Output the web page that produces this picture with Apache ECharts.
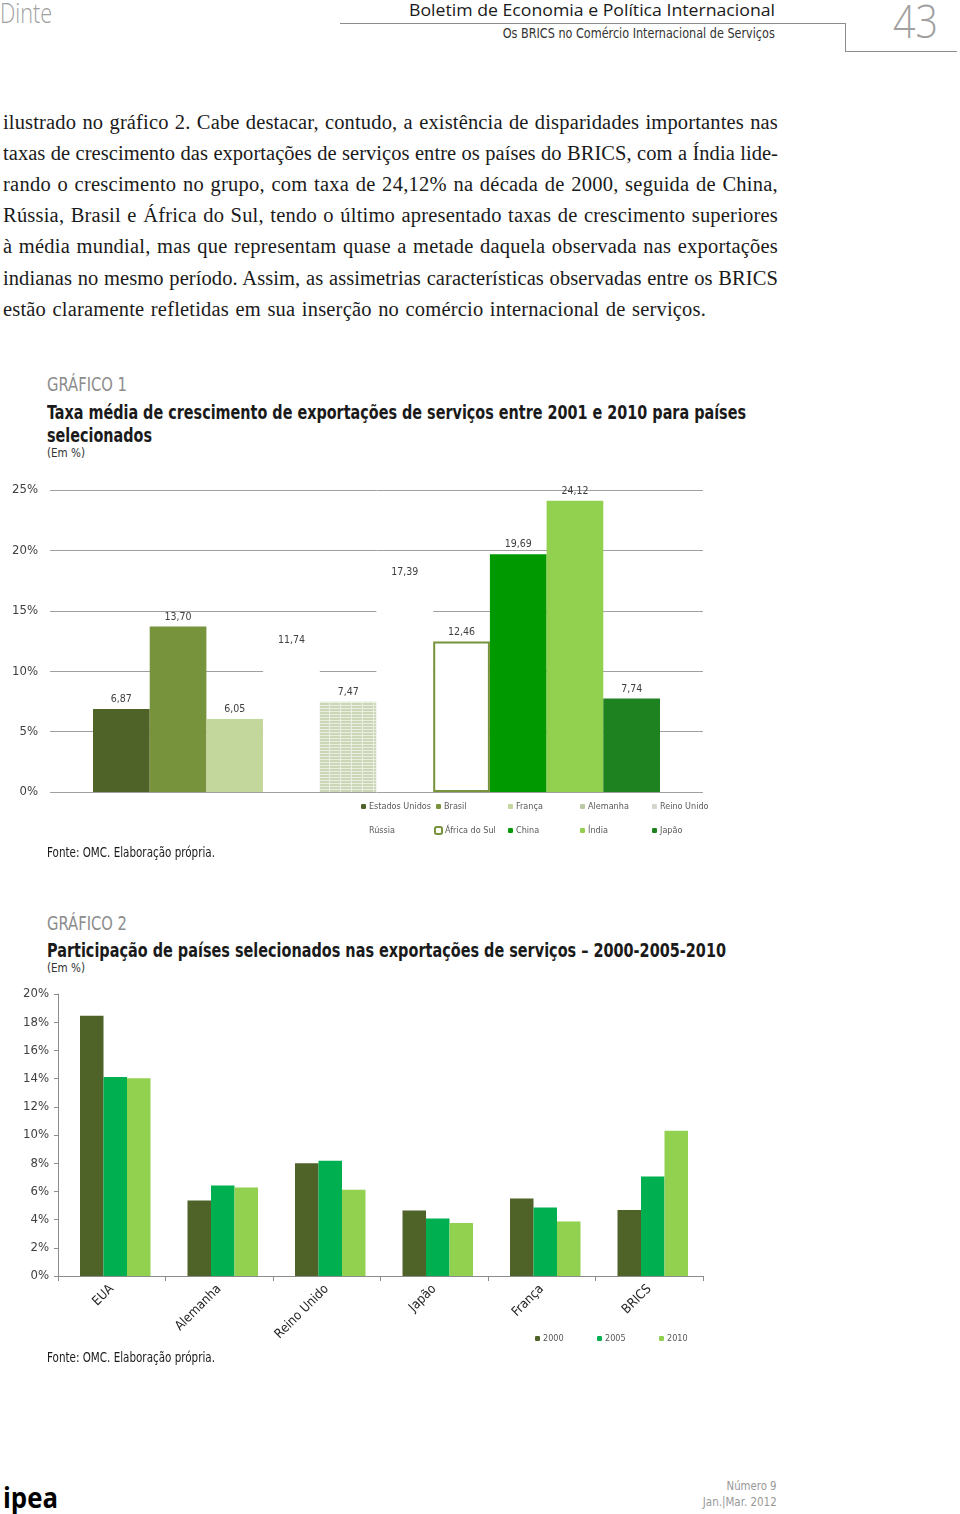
<!DOCTYPE html>
<html><head><meta charset="utf-8">
<script src="https://cdn.jsdelivr.net/npm/echarts@6/dist/echarts.min.js"></script>
<style>
html,body{margin:0;padding:0;background:#fff}
body{width:960px;height:1514px;position:relative;overflow:hidden}
.t{position:absolute;white-space:nowrap;line-height:1;font-family:'Liberation Sans Narrow','DejaVu Sans Condensed','Open Sans',sans-serif}
.r{transform-origin:right center}
.l{transform-origin:left center}
.body{font-family:'Liberation Serif','DejaVu Serif',serif;font-size:20.5px;color:#1a1a1a}
.hl{position:absolute;background:#8c8c8c}
#c1{position:absolute;left:0;top:460px;width:960px;height:400px}
#c2{position:absolute;left:0;top:975px;width:960px;height:400px}
</style></head>
<body>
<!-- header -->
<div class="t l" style="left:0;top:-1px;font-size:27px;color:#a0a0a0;font-family:'Open Sans',sans-serif;font-weight:300" data-w="52">Dinte</div>
<div class="t r" style="right:185px;top:1px;font-size:17px;color:#1a1a1a;font-family:'Open Sans',sans-serif" data-w="366">Boletim de Economia e Política Internacional</div>
<div class="hl" style="left:340px;top:23px;width:505px;height:1px"></div>
<div class="t r" style="right:185px;top:26px;font-size:14px;color:#333" data-w="272">Os BRICS no Comércio Internacional de Serviços</div>
<div class="hl" style="left:845px;top:23px;width:1px;height:29px"></div>
<div class="hl" style="left:845px;top:51px;width:112px;height:1px"></div>
<div class="t l" style="left:893px;top:-3px;font-size:46px;color:#a0a0a0;font-family:'Open Sans',sans-serif;font-weight:300" data-w="45">43</div>

<!-- body text -->
<div class="t body l" style="left:3px;top:112px" data-w="775" data-j="1">ilustrado no gráfico 2. Cabe destacar, contudo, a existência de disparidades importantes nas</div>
<div class="t body l" style="left:3px;top:143px" data-w="775" data-j="1">taxas de crescimento das exportações de serviços entre os países do BRICS, com a Índia lide-</div>
<div class="t body l" style="left:3px;top:174px" data-w="775" data-j="1">rando o crescimento no grupo, com taxa de 24,12% na década de 2000, seguida de China,</div>
<div class="t body l" style="left:3px;top:205px" data-w="775" data-j="1">Rússia, Brasil e África do Sul, tendo o último apresentado taxas de crescimento superiores</div>
<div class="t body l" style="left:3px;top:236px" data-w="775" data-j="1">à média mundial, mas que representam quase a metade daquela observada nas exportações</div>
<div class="t body l" style="left:3px;top:268px" data-w="775" data-j="1">indianas no mesmo período. Assim, as assimetrias características observadas entre os BRICS</div>
<div class="t body l" style="left:3px;top:299px" data-w="703" data-j="1">estão claramente refletidas em sua inserção no comércio internacional de serviços.</div>

<!-- chart 1 headings -->
<div class="t l" style="left:47px;top:375px;font-size:19px;color:#8c8c8c" data-w="80">GRÁFICO 1</div>
<div class="t l" style="left:47px;top:402px;font-size:20px;color:#1a1a1a;font-weight:bold" data-w="699">Taxa média de crescimento de exportações de serviços entre 2001 e 2010 para países</div>
<div class="t l" style="left:47px;top:425px;font-size:20px;color:#1a1a1a;font-weight:bold" data-w="105">selecionados</div>
<div class="t l" style="left:47px;top:446px;font-size:13px;color:#333" data-w="38">(Em %)</div>
<div id="c1"></div>
<div class="t l" style="left:47px;top:845px;font-size:14px;color:#1a1a1a" data-w="168">Fonte: OMC. Elaboração própria.</div>

<!-- chart 2 headings -->
<div class="t l" style="left:47px;top:914px;font-size:19px;color:#8c8c8c" data-w="80">GRÁFICO 2</div>
<div class="t l" style="left:47px;top:940px;font-size:20px;color:#1a1a1a;font-weight:bold" data-w="679">Participação de países selecionados nas exportações de serviços – 2000-2005-2010</div>
<div class="t l" style="left:47px;top:961px;font-size:13px;color:#333" data-w="38">(Em %)</div>
<div id="c2"></div>
<div class="t l" style="left:47px;top:1350px;font-size:14px;color:#1a1a1a" data-w="168">Fonte: OMC. Elaboração própria.</div>

<!-- footer -->
<div class="t l" style="left:3px;top:1482px;font-size:29px;color:#000;font-weight:bold;font-family:'Open Sans',sans-serif" data-w="55">ipea</div>
<div class="t r" style="right:183px;top:1479px;font-size:13px;color:#999" data-w="50">Número 9</div>
<div class="t r" style="right:183px;top:1495px;font-size:13px;color:#999" data-w="74">Jan.|Mar. 2012</div>

<script>
// ---------- DATA ----------
// Gráfico 1: taxa média de crescimento (%), 2001-2010
const c1Countries = ['Estados Unidos','Brasil','França','Alemanha','Reino Unido','Rússia','África do Sul','China','Índia','Japão'];
const c1Values    = [6.87, 13.70, 6.05, 11.74, 7.47, 17.39, 12.46, 19.69, 24.12, 7.74];
const c1YTicks    = [0, 5, 10, 15, 20, 25];

// Gráfico 2: participação nas exportações de serviços (%)
const c2Categories = ['EUA','Alemanha','Reino Unido','Japão','França','BRICS'];
const c2Years      = ['2000','2005','2010'];
const c2_2000      = [18.45, 5.35, 8.0, 4.65, 5.5, 4.68];
const c2_2005      = [14.12, 6.42, 8.18, 4.08, 4.85, 7.06];
const c2_2010      = [14.02, 6.28, 6.12, 3.76, 3.86, 10.3];

// ---------- text fitting ----------
document.querySelectorAll('[data-w]').forEach(el => {
  const target = +el.dataset.w;
  const w = el.getBoundingClientRect().width;
  if (el.dataset.j) {
    const txt = el.textContent;
    const n = (txt.match(/ /g) || []).length;
    const chars = txt.length;
    const d = target - w;
    const ls = (d * 0.55) / chars;
    el.style.letterSpacing = ls + 'px';
    const w2 = el.getBoundingClientRect().width;
    el.style.wordSpacing = ((target - w2) / n) + 'px';
  } else {
    el.style.transform = 'scaleX(' + (target / w) + ')';
  }
});

const FONT = "'Liberation Sans Narrow','DejaVu Sans Condensed','Open Sans',sans-serif";

// pattern for Reino Unido
const pc = document.createElement('canvas');
pc.width = 11; pc.height = 3;
const px = pc.getContext('2d');
px.fillStyle = '#cbd6b6'; px.fillRect(0, 0, 11, 3);
px.fillStyle = '#e9eee0'; px.fillRect(0, 2, 11, 1); px.fillRect(10, 0, 1, 3);

const c1Styles = [
  {color:'#4f6228'},
  {color:'#77933c'},
  {color:'#c3d69b'},
  {color:'#ffffff'},
  {color:{image: pc, repeat:'repeat'}},
  {color:'#ffffff'},
  {color:'#ffffff', borderColor:'#77933c', borderWidth:2},
  {color:'#009900'},
  {color:'#92d050'},
  {color:'#1e8220'}
];
const c1LegendIcons = [null, null, null, {color:'#b9caa2'}, {color:'#d3d6cc'}, null, null, null, null, null];
const c1LegendPos = [
  [361,342],[436,342],[508,342],[580,342],[652,342],
  [361,366],[434,366],[508,366],[580,366],[652,366]
];

const chart1 = echarts.init(document.getElementById('c1'));
chart1.setOption({
  animation:false,
  textStyle:{fontFamily:FONT},
  grid:{left:50, top:30, width:653, height:302},
  xAxis:{type:'category', data:[''], axisLine:{show:false}, axisTick:{show:false}, axisLabel:{show:false}},
  yAxis:{type:'value', min:0, max:25, interval:5,
    axisLabel:{formatter:'{value}%', fontSize:13, color:'#404040', margin:12, fontFamily:FONT},
    splitLine:{lineStyle:{color:'#a0a0a0', width:1}}, axisLine:{show:false}, axisTick:{show:false}},
  legend: c1Countries.map((n,i)=>({
    data:[c1LegendIcons[i] ? {name:n, itemStyle:c1LegendIcons[i]} : n],
    left:c1LegendPos[i][0], top:c1LegendPos[i][1], padding:0,
    itemWidth: i===6 ? 7 : 5, itemHeight: i===6 ? 7 : 5, itemGap:2,
    textStyle:{fontSize:9, color:'#595959', fontFamily:FONT, padding:[0,0,0,-2]},
    selectedMode:false
  })),
  series: c1Countries.map((n,i)=>({
    name:n, type:'bar', data:[c1Values[i]], barWidth:56.7, barGap:'0%',
    itemStyle:c1Styles[i],
    label:{show:true, position:'top', distance:4, fontSize:10.5, color:'#404040', fontFamily:FONT,
      formatter:p=>p.value.toFixed(2).replace('.',',')}
  }))
});

const chart2 = echarts.init(document.getElementById('c2'));
const c2Colors = ['#4f6228','#00b050','#92d050'];
const c2Data = [c2_2000, c2_2005, c2_2010];
const c2LegendX = [535, 597, 659];
chart2.setOption({
  animation:false,
  textStyle:{fontFamily:FONT},
  grid:[{left:58, top:19, width:645, height:282},{left:61.5, top:19, width:645, height:282}],
  xAxis:[
    {type:'category', gridIndex:0, data:c2Categories,
      axisLine:{lineStyle:{color:'#8c8c8c'}}, axisTick:{show:true, length:5, lineStyle:{color:'#8c8c8c'}},
      axisLabel:{rotate:45, fontSize:13, color:'#262626', margin:11, fontFamily:FONT}},
    {type:'category', gridIndex:1, data:c2Categories, show:false}
  ],
  yAxis:[
    {type:'value', gridIndex:0, min:0, max:20, interval:2,
      axisLabel:{formatter:'{value}%', fontSize:13, color:'#404040', margin:9, fontFamily:FONT},
      axisLine:{show:true, lineStyle:{color:'#8c8c8c'}}, axisTick:{show:true, length:4, lineStyle:{color:'#8c8c8c'}},
      splitLine:{show:false}},
    {type:'value', gridIndex:1, min:0, max:20, interval:2, show:false, splitLine:{show:false}}
  ],
  legend: c2Years.map((y,i)=>({
    data:[y], left:c2LegendX[i], top:359, padding:0, itemWidth:5, itemHeight:5, itemGap:2,
    textStyle:{fontSize:9, color:'#595959', fontFamily:FONT, padding:[0,0,0,-2]}, selectedMode:false
  })),
  series: c2Years.map((y,i)=>({
    name:y, type:'bar', xAxisIndex:1, yAxisIndex:1, data:c2Data[i],
    barWidth:23.5, barGap:'0%', itemStyle:{color:c2Colors[i]}
  }))
});
</script>
</body></html>
